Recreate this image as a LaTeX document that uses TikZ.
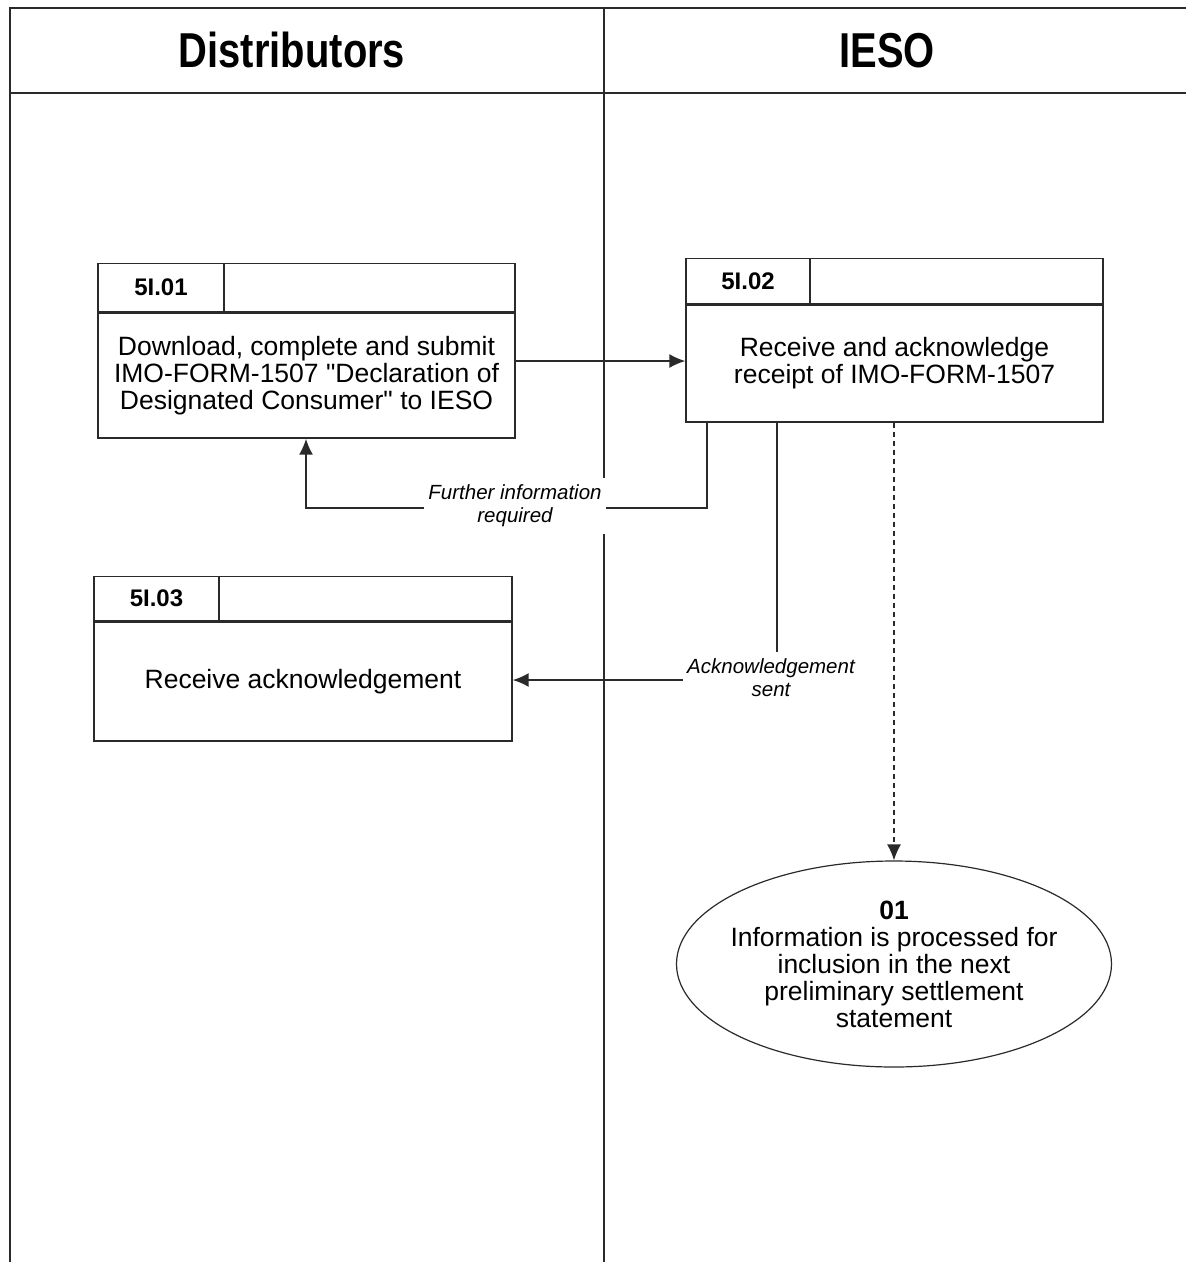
\documentclass[tikz,border=0pt]{standalone}
\usepackage{fontspec}
\setmainfont{Liberation Sans}
\newfontfamily\hdrfont[FakeStretch=0.815]{Liberation Sans}
\usetikzlibrary{arrows.meta,shapes.geometric}
\definecolor{lncol}{HTML}{2A2A2A}
\newcommand{\sq}{\XeTeXglyph\XeTeXcharglyph"22\relax}
\tikzset{
  lane/.style={draw=lncol, line width=1.6pt},
  boxline/.style={draw=lncol, line width=1.4pt},
  body/.style={boxline, rectangle, inner sep=0pt, align=center,
    font=\fontsize{26.5}{27}\selectfont},
  hdrcell/.style={boxline, rectangle, inner sep=0pt},
  idcell/.style={boxline, rectangle, inner sep=0pt,
    font=\fontsize{24}{26}\selectfont\bfseries},
  conn/.style={draw=lncol, line width=1.5pt},
  arr/.style={conn, -{Latex[length=16pt,width=14pt]}},
  lbl/.style={fill=white, align=center, inner xsep=4pt, inner ysep=7pt,
    font=\fontsize{20.5}{23}\selectfont\itshape},
  lanetitle/.style={anchor=base, font=\hdrfont\fontsize{49}{52}\selectfont\bfseries}
}
\begin{document}
\begin{tikzpicture}[x=1pt,y=-1pt]
\useasboundingbox (0,0) rectangle (1186,1262);
% swimlanes
\draw[lane] (10,1262) -- (10,8) -- (1186,8);
\draw[lane] (10,93) -- (1186,93);
\draw[lane] (604,8) -- (604,1262);
\node[lanetitle] (t1) at (292,67) {Distributors};
\node[lanetitle] (t2) at (887,67) {IESO};

% box 5I.01
\node[body, minimum width=417pt, minimum height=125pt] (b1) at (306.5,375.5)
  {Download, complete and submit\\IMO-FORM-1507 \sq Declaration of\\Designated Consumer\sq\ to IESO};
\node[hdrcell, minimum width=417pt, minimum height=48pt, anchor=south] (h1) at (b1.north) {};
\node[idcell, minimum width=126pt, minimum height=48pt, anchor=south west] (i1) at (b1.north west) {5I.01};

% box 5I.02
\node[body, minimum width=417pt, minimum height=117pt] (b2) at (894.5,363.5)
  {Receive and acknowledge\\receipt of IMO-FORM-1507};
\node[hdrcell, minimum width=417pt, minimum height=45pt, anchor=south] (h2) at (b2.north) {};
\node[idcell, minimum width=124pt, minimum height=45pt, anchor=south west] (i2) at (b2.north west) {5I.02};

% box 5I.03
\node[body, minimum width=418pt, minimum height=119pt] (b3) at (303,681.5)
  {Receive acknowledgement};
\node[hdrcell, minimum width=418pt, minimum height=44pt, anchor=south] (h3) at (b3.north) {};
\node[idcell, minimum width=125pt, minimum height=44pt, anchor=south west] (i3) at (b3.north west) {5I.03};

% terminator ellipse
\node[ellipse, boxline, line width=1.2pt, minimum width=435pt, minimum height=206pt, inner sep=0pt] (e1) at (894,964) {};
\node[align=center, font=\fontsize{26.5}{27}\selectfont] (e1t) at (e1.center)
  {\textbf{01}\\Information is processed for\\inclusion in the next\\preliminary settlement\\statement};

% connectors
\coordinate (r1) at (600,361);
\draw[arr] (b1.east |- r1) -- (b2.west |- r1);

\coordinate (fx) at (707,0);
\coordinate (fy) at (0,508);
\coordinate (fl) at (306,0);
\draw[arr] (b2.south -| fx) -- (fx |- fy) -- (fl |- fy) -- (b1.south -| fl);

\coordinate (ax) at (777,0);
\coordinate (ay) at (0,680);
\draw[arr] (b2.south -| ax) -- (ax |- ay) -- (b3.east |- ay);

\coordinate (ex) at (894,0);
\draw[arr, dash pattern=on 5pt off 4pt] (b2.south -| ex) -- (e1.north);

% connector labels
\node[lbl] (l1) at (515,506) {Further information\\required};
\node[lbl] (l2) at (771,678) {Acknowledgement\\sent};
\end{tikzpicture}
\end{document}
